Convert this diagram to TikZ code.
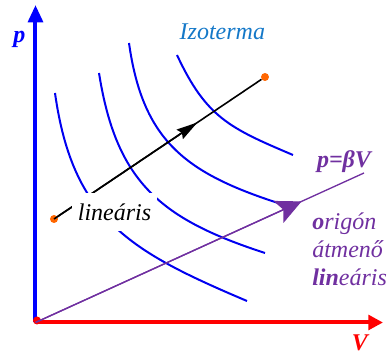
\documentclass[tikz,border=0pt]{standalone}
\usepackage{fontspec}
\setmainfont{Liberation Serif}
\usepackage{tikz}
\usetikzlibrary{arrows.meta,calc}
\definecolor{axisblue}{RGB}{0,0,255}
\definecolor{axisred}{RGB}{255,0,0}
\definecolor{isoblue}{RGB}{0,0,240}
\definecolor{izoblue}{RGB}{20,120,200}
\definecolor{linpurple}{RGB}{112,48,160}
\definecolor{pointorange}{RGB}{255,102,0}
\newcommand{\isoterm}[4]{\draw[isoline] #1 to[out=#3,in=#4] #2;}
\newcommand{\bigit}{\fontsize{18}{21}\selectfont\itshape}

\begin{document}
\begin{tikzpicture}[x=7.5pt,y=7.5pt,
  isoline/.style={isoblue,line width=1.5pt,looseness=1.15},
  endpoint/.style={circle,fill=pointorange,inner sep=0pt,minimum size=6pt},
  axislabel/.style={font=\bigit\bfseries,anchor=base}]
\useasboundingbox (0,0) rectangle (38.7,35.6);
\coordinate (O) at (3.55,3.35);
\coordinate (ptop) at (3.55,35.1);
\coordinate (vend) at (38.3,3.35);
\coordinate (betaend) at (36.4,18.3);
\isoterm{(5.5,26.3)}{(24.7,5.5)}{-82}{157}
\isoterm{(9.9,28.3)}{(26.5,10.3)}{-81}{162}
\isoterm{(12.9,31.3)}{(27.8,15.3)}{-82}{162}
\isoterm{(17.7,30.1)}{(29.3,20.1)}{-65}{157}
\node[endpoint] (start) at (5.4,13.7) {};
\node[endpoint] (end) at (26.5,27.9) {};
\draw[line width=1.2pt] (start) -- (end);
\draw[line width=1.2pt,-{Stealth[length=16pt,width=8.5pt,inset=2pt]}] (start.center) -- ($(start.center)!0.68!(end.center)$);
\draw[axisblue,line width=3pt,-{Triangle[length=13pt,width=11pt]}] (O) -- (ptop);
\draw[axisred,line width=3pt,-{Triangle[length=11pt,width=11pt]}] (O) -- (vend);
\node[circle,fill=axisred,inner sep=0pt,minimum size=6pt] (origin) at (3.7,3.55) {};
\draw[linpurple,line width=1pt] (O) -- (betaend);
\draw[linpurple,line width=1pt,-{Stealth[length=19pt,width=18pt,inset=4pt]}] (O) -- ($(O)!0.81!(betaend)$);
\node[fill=white,inner sep=0pt,minimum width=64pt,minimum height=28.5pt,font=\bigit] (linlabel) at (11.45,14.4) {lineáris};
\node[font=\bigit,text=izoblue,anchor=base west] (izolabel) at (17.5,31.6) {Izoterma};
\node[axislabel,text=axisblue] (plabel) at (1.95,31.3) {p};
\node[axislabel,text=axisred] (vlabel) at (36.0,0.55) {V};
\node[axislabel,text=linpurple] (betalabel) at (34.4,18.8) {p=βV};
\node[font=\bigit,text=linpurple,align=left,anchor=west,inner sep=0pt] (linnote) at (31.2,10.7) {\textbf{o}rigón\\átmenő\\\textbf{lin}eáris};
\end{tikzpicture}
\end{document}
